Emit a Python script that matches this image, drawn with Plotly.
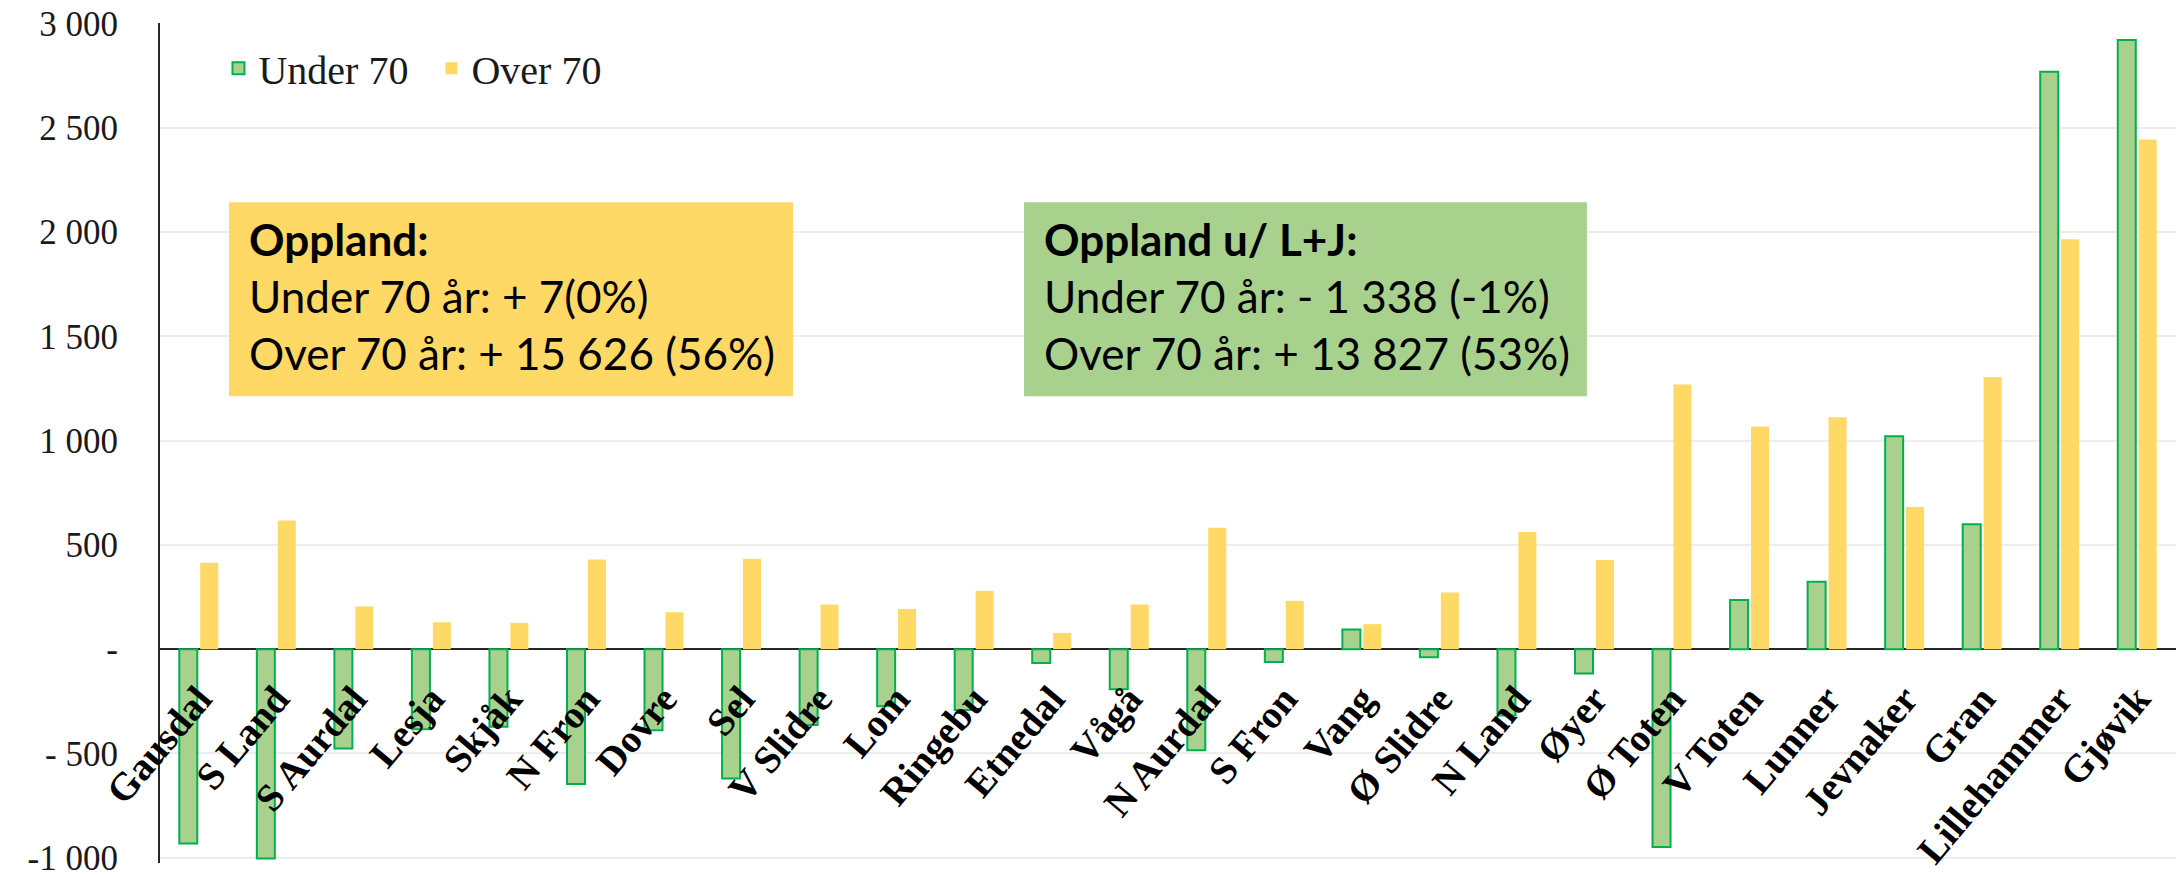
import plotly.graph_objects as go

categories = ["Gausdal", "S Land", "S Aurdal", "Lesja", "Skjåk", "N Fron", "Dovre", "Sel",
              "V Slidre", "Lom", "Ringebu", "Etnedal", "Vågå", "N Aurdal", "S Fron", "Vang",
              "Ø Slidre", "N Land", "Øyer", "Ø Toten", "V Toten", "Lunner", "Jevnaker", "Gran",
              "Lillehammer", "Gjøvik"]
under_70 = [-931, -1003, -476, -384, -372, -646, -388, -620, -363, -273, -292, -66, -192,
            -484, -61, 94, -39, -318, -117, -948, 236, 323, 1021, 599, 2768, 2921]
over_70 = [415, 617, 205, 129, 126, 430, 177, 433, 214, 193, 280, 78, 214, 582, 232, 120,
           272, 562, 427, 1269, 1068, 1112, 682, 1305, 1965, 2443]

y_tickvals = [3000, 2500, 2000, 1500, 1000, 500, 0, -500, -1000]
y_ticktext = ["3 000", "2 500", "2 000", "1 500", "1 000", "500", "-", "- 500", "-1 000"]

box1_lines = ["<b>Oppland:</b>", "Under 70 år: + 7(0%)", "Over 70 år: + 15 626 (56%)"]
box2_lines = ["<b>Oppland u/ L+J:</b>", "Under 70 år: - 1 338 (-1%)", "Over 70 år: + 13 827 (53%)"]

GREEN_FILL = "#A9D18E"
GREEN_LINE = "#00B050"
YELLOW = "#FFD966"
GRID = "#EDEDED"

W, H = 2178, 875
ML, MR, MT, MB = 160, 2, 23, 12

fig = go.Figure()
fig.add_trace(go.Bar(name="Under 70", x=categories, y=under_70,
                     marker=dict(color=GREEN_FILL, line=dict(color=GREEN_LINE, width=2))))
fig.add_trace(go.Bar(name="Over 70", x=categories, y=over_70,
                     marker=dict(color=YELLOW, line=dict(width=0))))

serif = "Liberation Serif, Times New Roman, serif"
sans = "Lato, Carlito, Calibri, sans-serif"

y_lo, y_hi = -1025, 3002
zero_pos = (0 - y_lo) / (y_hi - y_lo)

fig.update_layout(
    width=W, height=H,
    margin=dict(l=ML, r=MR, t=MT, b=MB),
    paper_bgcolor="white", plot_bgcolor="white",
    barmode="group", bargap=0.46, bargroupgap=0.14,
    font=dict(family=serif, color="#000000"),
    showlegend=True,
    legend=dict(orientation="h", x=0.029, y=0.946, xanchor="left", yanchor="middle",
                font=dict(family=serif, size=40, color="#1a1a1a"),
                bgcolor="rgba(0,0,0,0)", traceorder="normal", itemwidth=30,
                entrywidth=168, entrywidthmode="pixels"),
    xaxis=dict(type="category", anchor="free", position=zero_pos, showgrid=False,
               showline=False, ticks="", tickangle=-50, automargin=False,
               ticklabelstandoff=18, ticklabeloverflow="allow",
               tickfont=dict(family=serif, size=39, color="#000000", weight="bold")),
    yaxis=dict(range=[y_lo, y_hi], tickvals=y_tickvals, ticktext=y_ticktext,
               showgrid=True, gridcolor=GRID, gridwidth=2,
               zeroline=True, zerolinecolor="#262626", zerolinewidth=2,
               showline=True, linecolor="#262626", linewidth=2,
               ticks="", ticklabelstandoff=33, automargin=False,
               ticklabeloverflow="allow",
               tickfont=dict(family=serif, size=35, color="#1a1a1a")),
)

# bottom gridline (plotly omits it at the axis edge)
fig.add_shape(type="line", xref="paper", yref="y", x0=0, x1=1,
              y0=min(y_tickvals), y1=min(y_tickvals),
              line=dict(color=GRID, width=2), layer="below")

# summary boxes
def add_box(x0, x1, color, lines):
    fig.add_shape(type="rect", xref="paper", yref="y", x0=x0, x1=x1, y0=1213, y1=2143,
                  fillcolor=color, line=dict(width=0), layer="above")
    fig.add_annotation(xref="paper", yref="y", x=x0 + 0.009, y=1693, xanchor="left",
                       yanchor="middle", align="left", showarrow=False,
                       text="<br>".join(lines),
                       font=dict(family=sans, size=44, color="#000000"))

add_box(0.0342, 0.314, YELLOW, box1_lines)
add_box(0.4286, 0.7078, GREEN_FILL, box2_lines)

fig.write_html("out.html", config={"displayModeBar": False},
               post_script="document.body.style.margin='0';document.body.style.overflow='hidden';")
